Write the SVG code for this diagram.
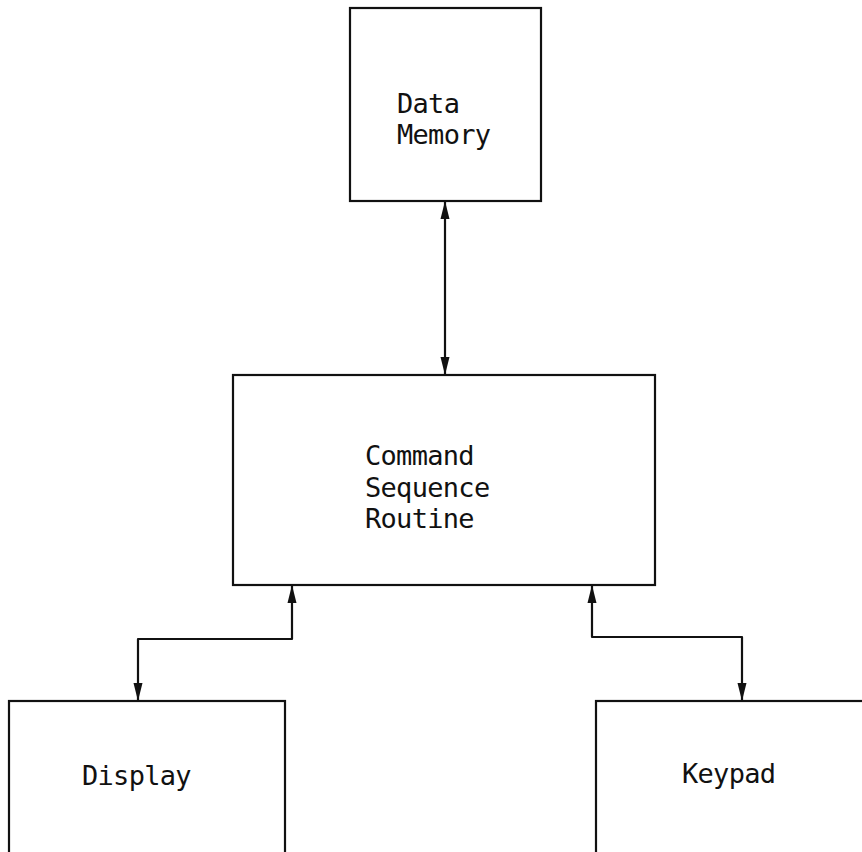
<svg xmlns="http://www.w3.org/2000/svg" width="862" height="852" viewBox="0 0 862 852">
<style>
.box{fill:#fff;stroke:#111;stroke-width:2.2}
.lbl{font-family:"DejaVu Sans Mono","Liberation Mono",monospace;font-size:27px;letter-spacing:-0.7px;fill:#111}
.wire{fill:none;stroke:#111;stroke-width:2.2;stroke-linejoin:round}
</style>
<defs>
<marker id="ah" markerUnits="userSpaceOnUse" markerWidth="18" markerHeight="10" refX="18" refY="5" orient="auto-start-reverse" viewBox="0 0 18 10">
<path d="M0,0.5 L18,5 L0,9.5 z" fill="#111"/>
</marker>
</defs>
<rect width="862" height="852" fill="#fff"/>
<g id="data-memory">
<rect class="box" x="350" y="8" width="191" height="193"/>
<text class="lbl" x="397" y="113">Data</text>
<text class="lbl" x="397" y="144">Memory</text>
</g>
<g id="command-sequence-routine">
<rect class="box" x="233" y="375" width="422" height="210"/>
<text class="lbl" x="365" y="465">Command</text>
<text class="lbl" x="365" y="497">Sequence</text>
<text class="lbl" x="365" y="528">Routine</text>
</g>
<g id="display">
<rect class="box" x="9" y="701" width="276" height="170"/>
<text class="lbl" x="82" y="785">Display</text>
</g>
<g id="keypad">
<rect class="box" x="596" y="701" width="290" height="170"/>
<text class="lbl" x="682" y="783">Keypad</text>
</g>
<g id="connectors">
<path class="wire" d="M445,201 L445,375" marker-start="url(#ah)" marker-end="url(#ah)"/>
<path class="wire" d="M292,585 L292,639 L138,639 L138,701" marker-start="url(#ah)" marker-end="url(#ah)"/>
<path class="wire" d="M592,585 L592,637 L742,637 L742,701" marker-start="url(#ah)" marker-end="url(#ah)"/>
</g>
</svg>
